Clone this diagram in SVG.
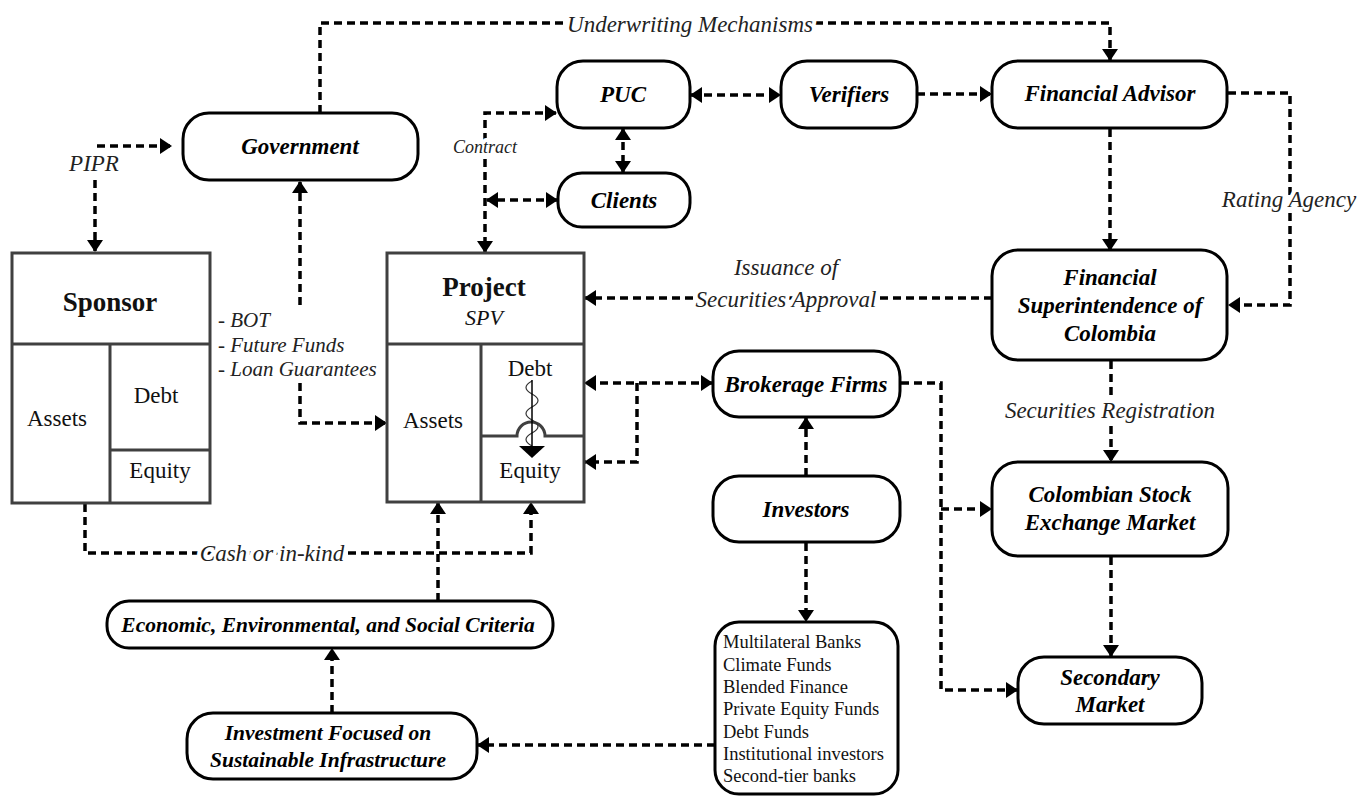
<svg xmlns="http://www.w3.org/2000/svg" width="1371" height="796" viewBox="0 0 1371 796">
<style>
.n rect{fill:#fff;stroke:#000;stroke-width:3}
.nt{font-family:"Liberation Serif","Times New Roman",serif;font-weight:bold;font-style:italic;font-size:23px;text-anchor:middle;dominant-baseline:central;fill:#000}
.box{fill:#fff;stroke:#404040;stroke-width:3}
.div{fill:none;stroke:#404040;stroke-width:3}
.rt{font-family:"Liberation Serif","Times New Roman",serif;font-size:23px;text-anchor:middle;dominant-baseline:central;fill:#111}
.lbl{font-family:"Liberation Serif","Times New Roman",serif;font-style:italic;font-size:23px;text-anchor:middle;dominant-baseline:central;fill:#222;paint-order:stroke;stroke:#fff;stroke-width:8px;stroke-linejoin:round}
.c{fill:none;stroke:#000;stroke-width:3.5;stroke-dasharray:8 5}
.e{marker-end:url(#a)}
.b{marker-start:url(#a);marker-end:url(#a)}
.lt{font-family:"Liberation Serif","Times New Roman",serif;font-size:18.5px;dominant-baseline:central;fill:#111}
</style>
<defs>
<marker id="a" viewBox="0 0 12 16" refX="11" refY="8" markerWidth="12" markerHeight="16" markerUnits="userSpaceOnUse" orient="auto-start-reverse"><path d="M0,0 L12,8 L0,16z" fill="#000"/></marker>
</defs>
<rect width="1371" height="796" fill="#fff"/>

<g id="connectors">
<path class="c e" d="M97,146 H171"/>
<path class="c e" d="M95,180 V251"/>
<path class="c e" d="M320,113 V23 H1110 V60"/>
<path class="c e" d="M300,305 V182"/>
<path class="c e" d="M300,383 V423 H386"/>
<path class="c b" d="M556,113 H485 V252"/>
<path class="c b" d="M557,200 H487"/>
<path class="c b" d="M691,95 H780"/>
<path class="c b" d="M623,129 V172"/>
<path class="c e" d="M917,94 H991"/>
<path class="c e" d="M1228,93 H1290 V305 H1229"/>
<path class="c e" d="M1110,129 V250"/>
<path class="c e" d="M992,298 H585"/>
<path class="c e" d="M1111,361 V461"/>
<path class="c e" d="M1111,557 V656"/>
<path class="c b" d="M712,383 H585"/>
<path class="c e" d="M637,383 V462 H585"/>
<path class="c e" d="M901,383 H941 V690 H1017"/>
<path class="c e" d="M941,509 H991"/>
<path class="c e" d="M806,476 V418"/>
<path class="c e" d="M806,543 V621"/>
<path class="c e" d="M715,745 H478"/>
<path class="c e" d="M332,713 V649"/>
<path class="c e" d="M438,601 V503"/>
<path class="c e" d="M85,504 V553 H531 V503"/>
<text class="lbl" x="94" y="163">PIPR</text>
<text class="lbl" x="690" y="24">Underwriting Mechanisms</text>
<text class="lbl" x="485" y="147" style="font-size:18px">Contract</text>
<text class="lbl" x="1289" y="199">Rating Agency</text>
<text class="lbl" x="786" y="267">Issuance of</text>
<text class="lbl" x="786" y="299">Securities Approval</text>
<text class="lbl" x="1110" y="410">Securities Registration</text>
<text class="lbl" x="272" y="553">Cash or in-kind</text>
<g class="lbl" style="text-anchor:start;font-size:21px">
<text x="218" y="320">- BOT</text>
<text x="218" y="345">- Future Funds</text>
<text x="218" y="369">- Loan Guarantees</text>
</g>
</g>

<g id="sponsor">
<rect class="box" x="12" y="253" width="198" height="250"/>
<path class="div" d="M12,344 H210 M110,344 V503 M110,450 H210"/>
<text class="rt" x="110" y="302" style="font-weight:bold;font-size:27px">Sponsor</text>
<text class="rt" x="57" y="418">Assets</text>
<text class="rt" x="156" y="395">Debt</text>
<text class="rt" x="160" y="470">Equity</text>
</g>

<g id="project">
<rect class="box" x="387" y="253" width="197" height="249"/>
<path class="div" d="M387,344 H584 M481,344 V502"/>
<path class="div" d="M481,436 H517 A14,14 0 0 1 545,436 H584"/>
<text class="rt" x="484" y="287" style="font-weight:bold;font-size:27px">Project</text>
<text class="rt" x="484" y="317" style="font-style:italic;font-size:22px">SPV</text>
<text class="rt" x="433" y="420">Assets</text>
<text class="rt" x="530" y="368">Debt</text>
<text class="rt" x="530" y="470">Equity</text>
<path d="M532,381 q-12,6.5 0,13 q12,6.5 0,13 q-12,6.5 0,13 q12,6.5 0,13 q-12,6.5 0,13" fill="none" stroke="#333" stroke-width="1.2"/>
<path d="M532,380 V447" fill="none" stroke="#000" stroke-width="1.5"/>
<polygon points="519,446 545,446 532,458" fill="#000"/>
</g>

<g id="government" class="n"><rect x="183" y="113" width="235" height="67" rx="26"/><text class="nt" x="300" y="146">Government</text></g>
<g id="puc" class="n"><rect x="557" y="61" width="133" height="67" rx="26"/><text class="nt" x="623" y="94">PUC</text></g>
<g id="verifiers" class="n"><rect x="781" y="61" width="136" height="67" rx="26"/><text class="nt" x="849" y="94">Verifiers</text></g>
<g id="clients" class="n"><rect x="558" y="173" width="132" height="54" rx="24"/><text class="nt" x="624" y="200">Clients</text></g>
<g id="financial-advisor" class="n"><rect x="992" y="61" width="235" height="67" rx="26"/><text class="nt" x="1110" y="93">Financial Advisor</text></g>
<g id="fsc" class="n"><rect x="992" y="250" width="235" height="110" rx="26"/><text class="nt" x="1110" y="277">Financial</text><text class="nt" x="1110" y="305">Superintendence of</text><text class="nt" x="1110" y="333">Colombia</text></g>
<g id="brokerage" class="n"><rect x="713" y="351" width="187" height="66" rx="26"/><text class="nt" x="806" y="384">Brokerage Firms</text></g>
<g id="investors" class="n"><rect x="713" y="476" width="187" height="66" rx="26"/><text class="nt" x="806" y="509">Investors</text></g>
<g id="cse" class="n"><rect x="992" y="462" width="236" height="94" rx="26"/><text class="nt" x="1110" y="494">Colombian Stock</text><text class="nt" x="1110" y="522">Exchange Market</text></g>
<g id="secondary" class="n"><rect x="1018" y="657" width="184" height="67" rx="26"/><text class="nt" x="1110" y="677">Secondary</text><text class="nt" x="1110" y="704">Market</text></g>
<g id="economic" class="n"><rect x="107" y="601" width="446" height="47" rx="22"/><text class="nt" x="328" y="625" style="font-size:21.5px">Economic, Environmental, and Social Criteria</text></g>
<g id="investment" class="n"><rect x="187" y="713" width="290" height="66" rx="26"/><text class="nt" x="328" y="733" style="font-size:21.5px">Investment Focused on</text><text class="nt" x="328" y="760" style="font-size:21.5px">Sustainable Infrastructure</text></g>
<g id="investor-types" class="n"><rect x="715" y="622" width="183" height="172" rx="24"/>
<text class="lt" x="723" y="642">Multilateral Banks</text>
<text class="lt" x="723" y="664.5">Climate Funds</text>
<text class="lt" x="723" y="687">Blended Finance</text>
<text class="lt" x="723" y="709">Private Equity Funds</text>
<text class="lt" x="723" y="731.5">Debt Funds</text>
<text class="lt" x="723" y="754">Institutional investors</text>
<text class="lt" x="723" y="776">Second-tier banks</text>
</g>
</svg>
